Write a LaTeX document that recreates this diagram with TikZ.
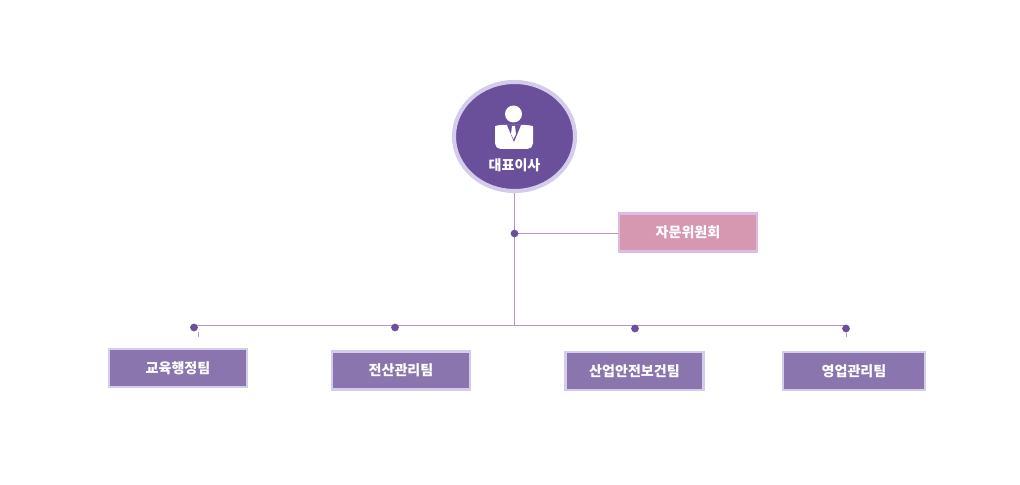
\documentclass[tikz,border=0pt]{standalone}
\usepackage{fontspec}
\setmainfont{Noto Sans CJK KR}
\usepackage{xcolor}
\usetikzlibrary{positioning,calc,shapes.geometric}
\definecolor{ceopurple}{HTML}{6A4F9B}
\definecolor{ceoring}{HTML}{D5CCEB}
\definecolor{teampurple}{HTML}{8A75AE}
\definecolor{teamedge}{HTML}{D3CCEC}
\definecolor{advpink}{HTML}{D697B0}
\definecolor{advedge}{HTML}{DDBCE3}
\definecolor{linkline}{HTML}{B891D2}

\begin{document}
\begin{tikzpicture}[x=0.025cm, y=-0.025cm, font=\bfseries\fontsize{10}{12}\selectfont,
    team/.style={draw=teamedge, line width=1.5pt, fill=teampurple, text=white, minimum width=3.45cm, minimum height=0.95cm, inner sep=0pt},
    junction/.style={circle, fill=ceopurple, inner sep=0pt, minimum size=5.5pt},
    link/.style={draw=linkline, line width=0.7pt}]
    \useasboundingbox (0,0) rectangle (1020,485);
    % top
    \node[ellipse, fill=ceopurple, draw=ceoring, line width=2.9pt, minimum width=3.025cm, minimum height=2.725cm, inner sep=0pt] (ceo) at (514.5,136.5) {};
    \fill[white] (513.5,114) circle[radius=8.5];
    \fill[white, rounded corners=4pt] (495,149) -- (495,132) .. controls (495,126) and (499,125) .. (506,125) -- (521,125) .. controls (528,125) and (533,126) .. (533,132) -- (533,149) -- cycle;
    \fill[ceopurple] (507,125) -- (514,142) -- (521,125) -- cycle;
    \fill[white] (512,126) -- (515,126) -- (516,134) -- (513.5,139) -- (511,134) -- cycle;
    \node[text=white] (ceolabel) at (514.5,165) {대표이사};
    % advisory
    \coordinate (hub) at (514.5,233.5);
    \coordinate (bar) at (514.5,325.5);
    \node[team, draw=advedge, fill=advpink] (adv) at (688,232.5) {자문위원회};
    \draw[link] (ceo.south) -- (bar);
    \draw[link] (hub) -- (hub -| adv.west);
    \node[junction] (hubdot) at (hub) {};
    % teams
    \node[team] (edu) at (178,368) {교육행정팀};
    \node[team] (it) at (401,370.5) {전산관리팀};
    \node[team] (safe) at (634.5,371) {산업안전보건팀};
    \node[team, minimum width=3.55cm] (sales) at (854,371) {영업관리팀};
    \draw[link] (194,325.5) -- (846,325.5);
    \node[junction] (d1) at (194,327.5) {};
    \node[junction] (d2) at (395,327.5) {};
    \node[junction] (d3) at (635,328.5) {};
    \node[junction] (d4) at (846,328.5) {};
    \coordinate (t1) at (198,337);
    \coordinate (t4) at (846,337);
    \draw[link, line width=0.5pt] (198,332) -- (t1);
    \draw[link, line width=0.5pt] (d4.south) -- (t4);
\end{tikzpicture}
\end{document}
